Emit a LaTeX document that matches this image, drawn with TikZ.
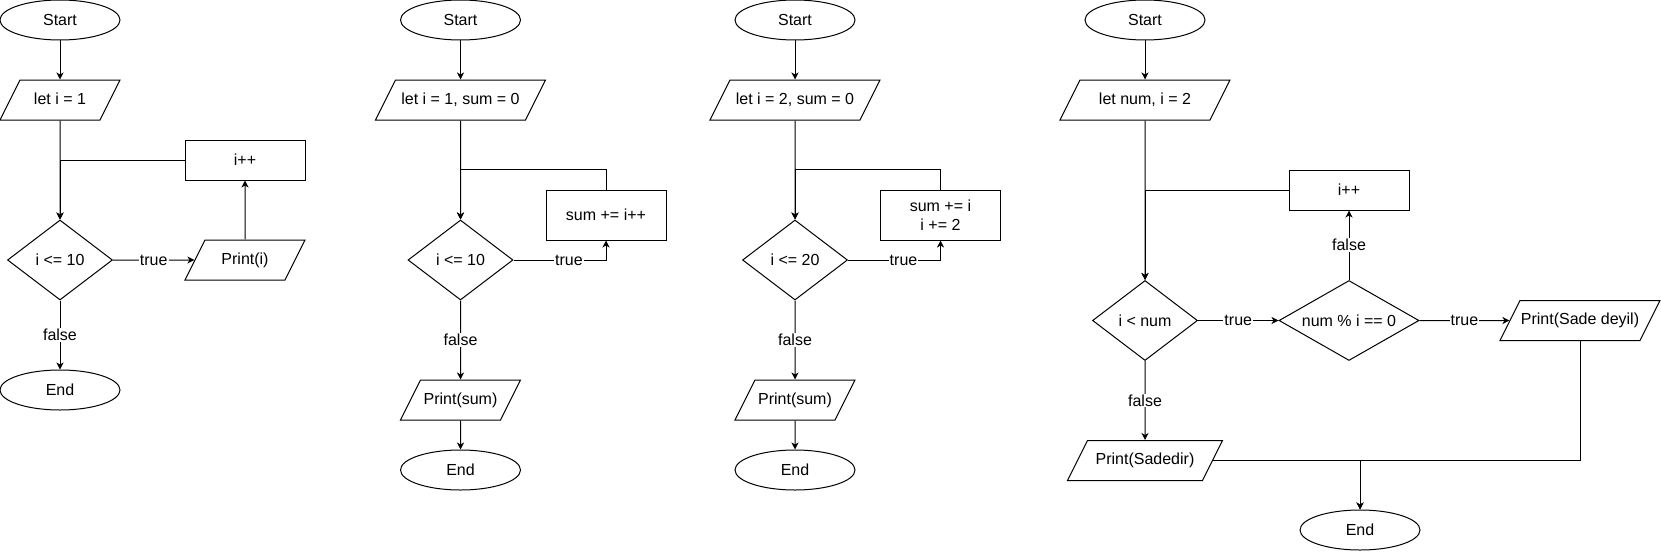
\documentclass[tikz,border=0pt]{standalone}
\usepackage{fontspec}
\setmainfont{Liberation Sans}
\usetikzlibrary{shapes.geometric,arrows.meta}
\begin{document}
\begin{tikzpicture}[x=1pt,y=-1pt,
  every node/.style={font=\fontsize{16}{19}\selectfont, inner sep=0pt, text=black},
  base/.style={draw=black, line width=1pt},
  term/.style={base, ellipse, minimum width=120, minimum height=40},
  io/.style={base, trapezium, trapezium left angle=63.435, trapezium right angle=116.565, trapezium stretches body, text height=12pt, text depth=4pt, inner ysep=12pt, inner xsep=0pt, minimum width=#1},
  proc/.style={base, rectangle, minimum width=120, minimum height=#1, align=center},
  dec/.style={base, diamond, minimum width=#1, minimum height=80},
  lbl/.style={fill=white, inner sep=1pt},
  arr/.style={draw=black, line width=1pt, -{Stealth[length=7pt,width=7pt,inset=2pt]}},
]
\useasboundingbox (0,0) rectangle (1661,551);

% ---------- diagram 1
\node[term] (s1) at (60,20) {Start};
\node[io=120] (l1) at (60,100) {let i = 1};
\node[proc=40] (inc1) at (245,160) {i++};
\node[dec=105] (d1) at (60,260) {i <= 10};
\node[io=120] (p1) at (245,260) {Print(i)};
\node[term] (e1) at (60,390) {End};
\draw[arr] (s1) -- (l1);
\draw[arr] (l1) -- (d1);
\draw[arr] (inc1.west) -| (d1.north);
\draw[arr] (d1.east) -- node[lbl]{true} (p1.west);
\draw[arr] (p1.north) -- (inc1.south);
\draw[arr] (d1.south) -- node[lbl]{false} (e1.north);

% ---------- diagram 2
\node[term] (s2) at (460.5,20) {Start};
\node[io=170] (l2) at (460.5,100) {let i = 1, sum = 0};
\node[proc=50] (r2) at (606,215) {sum += i++};
\node[dec=105] (d2) at (460.5,260) {i <= 10};
\node[io=120] (p2) at (460.5,400) {Print(sum)};
\node[term] (e2) at (460.5,470) {End};
\draw[arr] (s2) -- (l2);
\draw[arr] (l2) -- (d2);
\draw[arr] (r2.north) -- ++(0,-20) -| (d2.north);
\draw[arr] (d2.east) -- node[lbl,pos=0.6]{true} (d2.east -| r2.south) -- (r2.south);
\draw[arr] (d2.south) -- node[lbl]{false} (p2.north);
\draw[arr] (p2.south) -- (e2.north);

% ---------- diagram 3
\node[term] (s3) at (795,20) {Start};
\node[io=170] (l3) at (795,100) {let i = 2, sum = 0};
\node[proc=50] (r3) at (940.5,215) {sum += i\\i += 2};
\node[dec=105] (d3) at (795,260) {i <= 20};
\node[io=120] (p3) at (795,400) {Print(sum)};
\node[term] (e3) at (795,470) {End};
\draw[arr] (s3) -- (l3);
\draw[arr] (l3) -- (d3);
\draw[arr] (r3.north) -- ++(0,-20) -| (d3.north);
\draw[arr] (d3.east) -- node[lbl,pos=0.6]{true} (d3.east -| r3.south) -- (r3.south);
\draw[arr] (d3.south) -- node[lbl]{false} (p3.north);
\draw[arr] (p3.south) -- (e3.north);

% ---------- diagram 4
\node[term] (s4) at (1145,20) {Start};
\node[io=170] (l4) at (1145,100) {let num, i = 2};
\node[proc=40] (inc4) at (1349,190) {i++};
\node[dec=105] (dA) at (1145,320.5) {i < num};
\node[dec=140, aspect=1.75] (dB) at (1349,320.5) {num \% i == 0};
\node[io=160] (sd) at (1580,320.5) {Print(Sade deyil)};
\node[io=155] (sa) at (1145,460.5) {Print(Sadedir)};
\node[term] (e4) at (1360,530) {End};
\draw[arr] (s4) -- (l4);
\draw[arr] (l4) -- (dA);
\draw[arr] (inc4.west) -| (dA.north);
\draw[arr] (dA.east) -- node[lbl]{true} (dB.west);
\draw[arr] (dB.north) -- node[lbl]{false} (inc4.south);
\draw[arr] (dB.east) -- node[lbl]{true} (sd.west);
\draw[arr] (dA.south) -- node[lbl]{false} (sa.north);
\draw[arr] (sd.south) |- (e4.north |- sa.east) -- (e4.north);
\draw[arr] (sa.east) -| (e4.north);
\end{tikzpicture}
\end{document}
